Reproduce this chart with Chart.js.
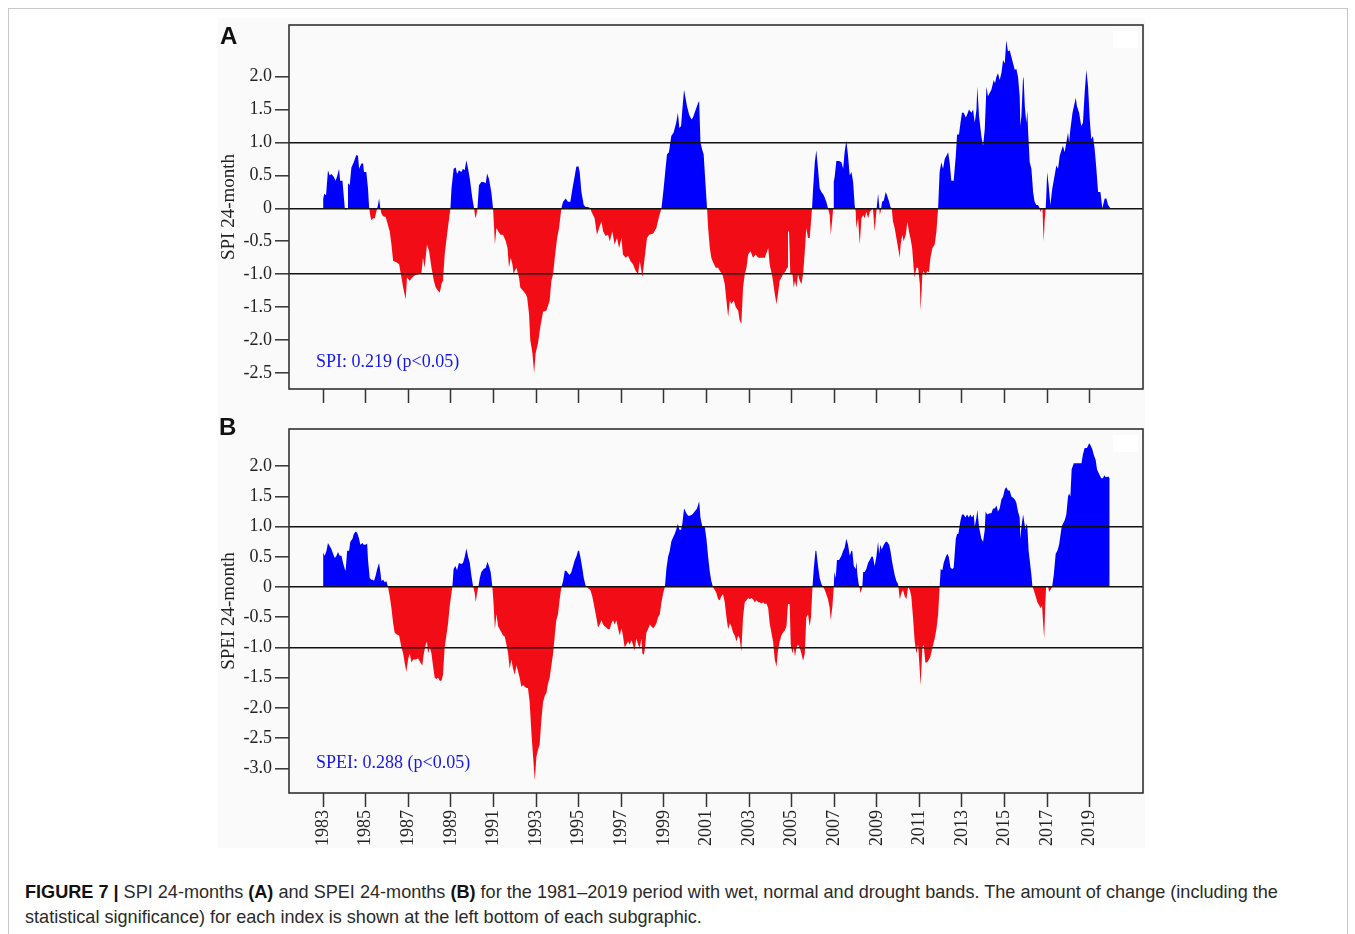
<!DOCTYPE html>
<html><head><meta charset="utf-8">
<script src="https://cdn.jsdelivr.net/npm/chart.js@4.4.1/dist/chart.umd.min.js"></script>
<style>
body{margin:0;background:#fff;width:1355px;height:934px;overflow:hidden;position:relative;}
#frame{position:absolute;left:8px;top:8px;width:1338px;height:940px;border:1px solid #c9c9c9;}
#fig{position:absolute;left:218px;top:18px;width:927px;height:830px;background:#fafafa;}
canvas{position:absolute;}
.lab{position:absolute;font-family:"Liberation Sans",Arial,sans-serif;font-weight:bold;font-size:24px;line-height:24px;color:#111;}
.note{position:absolute;font-family:"Liberation Serif",serif;font-size:18px;line-height:18px;color:#1616ee;white-space:nowrap;}
#cap{position:absolute;left:25px;top:880px;font-family:"Liberation Sans",Arial,sans-serif;font-size:18.1px;line-height:25px;color:#2a2a2a;white-space:nowrap;}
#cap b{font-weight:bold;color:#111;}
</style></head>
<body>
<div id="frame"></div>
<div id="fig"></div>
<canvas id="cA" width="927" height="392" style="left:218px;top:18px;"></canvas>
<canvas id="cB" width="927" height="438" style="left:218px;top:410px;"></canvas>
<div class="lab" style="left:220px;top:24px;">A</div>
<div class="lab" style="left:219px;top:415px;">B</div>
<div class="note" style="left:316px;top:352px;">SPI: 0.219 (p&lt;0.05)</div>
<div class="note" style="left:316px;top:753px;">SPEI: 0.288 (p&lt;0.05)</div>
<div id="cap"><b>FIGURE 7 |</b> SPI 24-months <b>(A)</b> and SPEI 24-months <b>(B)</b> for the 1981–2019 period with wet, normal and drought bands. The amount of change (including the<br>statistical significance) for each index is shown at the left bottom of each subgraphic.</div>
<script>
// ---- SPI 24-month (panel A) ----
const spiYears = [
1983.00,1983.06,1983.14,1983.23,1983.31,1983.39,1983.50,1983.59,1983.67,1983.75,1983.80,1983.91,
1984.02,1984.06,1984.13,1984.17,1984.25,1984.33,1984.44,1984.56,1984.64,1984.69,1984.80,1984.88,1984.92,
1985.03,1985.11,1985.16,1985.22,1985.27,1985.35,1985.43,1985.50,1985.58,1985.63,1985.69,1985.74,1985.82,1985.94,
1986.00,1986.13,1986.21,1986.29,1986.44,1986.57,1986.68,1986.76,1986.88,1986.94,
1987.07,1987.19,1987.30,1987.46,1987.62,1987.69,1987.77,1987.88,1987.98,
1988.09,1988.20,1988.29,1988.40,1988.48,1988.56,1988.63,1988.71,1988.82,1988.92,1988.98,
1989.03,1989.13,1989.23,1989.29,1989.38,1989.49,1989.57,1989.65,1989.73,1989.81,1989.89,
1990.01,1990.09,1990.15,1990.20,1990.25,1990.32,1990.43,1990.54,1990.64,1990.70,1990.79,1990.90,1990.98,
1991.03,1991.07,1991.14,1991.23,1991.33,1991.45,1991.58,1991.66,1991.73,1991.81,1991.89,1991.95,
1992.00,1992.08,1992.20,1992.26,1992.39,1992.51,1992.58,1992.67,1992.73,1992.83,1992.91,1992.98,
1993.09,1993.20,1993.33,1993.49,1993.64,1993.72,1993.80,1993.88,1993.99,
1994.08,1994.19,1994.27,1994.39,1994.50,1994.61,1994.71,1994.82,1994.89,1994.99,
1995.05,1995.13,1995.24,1995.33,1995.44,1995.55,1995.60,1995.75,1995.86,1995.96,
1996.07,1996.15,1996.27,1996.38,1996.46,1996.58,1996.69,1996.80,1996.90,
1997.01,1997.08,1997.21,1997.32,1997.43,1997.55,1997.68,1997.79,1997.87,1997.95,1997.99,
1998.10,1998.21,1998.31,1998.50,1998.65,1998.78,1998.89,1998.99,
1999.08,1999.15,1999.24,1999.35,1999.46,1999.58,1999.66,1999.73,1999.81,1999.87,1999.95,
2000.09,2000.19,2000.30,2000.37,2000.50,2000.61,2000.66,2000.72,2000.81,2000.87,2000.97,
2001.03,2001.08,2001.16,2001.23,2001.31,2001.44,2001.55,2001.63,2001.75,2001.86,2001.94,
2002.02,2002.10,2002.17,2002.28,2002.38,2002.49,2002.56,2002.64,2002.72,2002.80,2002.88,2002.96,
2003.07,2003.19,2003.32,2003.43,2003.58,2003.74,2003.85,2003.90,2003.97,
2004.10,2004.21,2004.29,2004.36,2004.44,2004.60,2004.72,2004.79,2004.83,2004.88,2004.94,
2005.04,2005.10,2005.16,2005.23,2005.30,2005.38,2005.46,2005.54,2005.62,2005.69,2005.77,2005.85,2005.90,2005.96,
2006.01,2006.09,2006.16,2006.24,2006.32,2006.40,2006.51,2006.63,2006.71,2006.79,2006.84,2006.90,2006.95,2006.98,
2007.03,2007.10,2007.23,2007.34,2007.42,2007.49,2007.57,2007.65,2007.73,2007.81,2007.89,2007.96,
2008.01,2008.04,2008.12,2008.20,2008.28,2008.36,2008.43,2008.51,2008.59,2008.67,2008.82,2008.90,2008.98,
2009.06,2009.11,2009.14,2009.18,2009.25,2009.33,2009.42,2009.48,2009.58,2009.64,2009.70,2009.76,2009.84,2009.92,
2010.00,2010.08,2010.12,2010.20,2010.26,2010.36,2010.44,2010.51,2010.58,2010.66,2010.73,2010.78,2010.86,2010.94,
2011.02,2011.06,2011.14,2011.20,2011.30,2011.36,2011.45,2011.52,2011.61,2011.72,2011.80,2011.88,2011.95,
2012.03,2012.11,2012.19,2012.27,2012.35,2012.42,2012.50,2012.61,2012.71,2012.77,2012.86,2012.93,
2013.00,2013.08,2013.18,2013.24,2013.33,2013.44,2013.52,2013.60,2013.68,2013.72,2013.80,2013.91,2013.99,
2014.07,2014.15,2014.22,2014.30,2014.38,2014.49,2014.55,2014.62,2014.69,2014.77,2014.85,2014.93,
2015.01,2015.08,2015.16,2015.24,2015.32,2015.40,2015.48,2015.55,2015.63,2015.71,2015.74,2015.79,2015.87,2015.90,2015.95,
2016.02,2016.07,2016.10,2016.18,2016.26,2016.34,2016.41,2016.49,2016.57,2016.65,2016.68,2016.78,2016.81,2016.84,2016.88,2016.93,2016.96,
2017.00,2017.07,2017.15,2017.24,2017.35,2017.43,2017.51,2017.59,2017.67,2017.74,2017.82,2017.90,2017.98,
2018.03,2018.09,2018.19,2018.29,2018.34,2018.40,2018.50,2018.60,2018.68,2018.76,2018.84,2018.92,
2019.00,2019.07,2019.15,2019.23,2019.31,2019.39,2019.50,2019.59,2019.70,2019.78,2019.86,2019.97
];
const spiValues = [
0.15,0.22,0.2,0.58,0.5,0.52,0.48,0.42,0.5,0.6,0.42,0.42,
0.0,-0.03,0.0,0.38,0.35,0.62,0.7,0.81,0.8,0.6,0.68,0.68,0.55,
0.55,0.3,0.02,-0.12,-0.18,-0.15,-0.15,-0.05,0.05,0.15,0.0,-0.08,-0.12,-0.13,
-0.2,-0.35,-0.55,-0.8,-0.82,-0.85,-1.05,-1.2,-1.38,-1.05,
-1.1,-1.05,-1.02,-1.0,-0.98,-0.75,-0.9,-0.55,-0.65,
-0.9,-1.1,-1.2,-1.25,-1.28,-1.15,-1.1,-0.7,-0.4,-0.15,0.0,
0.3,0.6,0.62,0.52,0.58,0.55,0.6,0.58,0.73,0.6,0.45,
0.15,0.0,-0.15,-0.1,0.0,0.35,0.4,0.4,0.38,0.53,0.45,0.25,0.0,
-0.3,-0.55,-0.3,-0.35,-0.4,-0.4,-0.5,-0.6,-0.9,-0.75,-0.85,-1.0,
-0.95,-0.9,-1.05,-1.2,-1.25,-1.3,-1.35,-1.6,-2.0,-2.2,-2.5,-2.2,
-2.05,-1.8,-1.57,-1.55,-1.4,-1.1,-1.0,-0.75,-0.45,
-0.3,0.0,0.1,0.15,0.1,0.1,0.3,0.5,0.63,0.64,
0.55,0.25,0.05,0.02,0.02,0.0,-0.05,-0.15,-0.4,-0.3,
-0.2,-0.35,-0.42,-0.4,-0.5,-0.35,-0.55,-0.45,-0.6,
-0.45,-0.7,-0.75,-0.72,-0.8,-0.85,-0.95,-1.0,-0.8,-0.95,-1.05,
-0.75,-0.45,-0.4,-0.38,-0.3,-0.12,0.0,0.3,
0.6,0.82,0.85,1.1,1.15,1.3,1.45,1.22,1.25,1.5,1.8,
1.55,1.42,1.35,1.38,1.5,1.6,1.63,1.0,0.88,0.82,0.3,
0.0,-0.3,-0.6,-0.75,-0.82,-0.9,-0.9,-0.95,-1.0,-1.15,-1.4,
-1.65,-1.4,-1.45,-1.4,-1.5,-1.55,-1.7,-1.75,-1.2,-1.0,-0.9,-0.7,
-0.65,-0.75,-0.7,-0.75,-0.75,-0.75,-0.65,-0.6,-0.85,
-1.05,-1.3,-1.45,-1.3,-1.1,-1.0,-0.95,-0.9,-0.35,-0.35,-1.0,
-1.0,-1.2,-1.1,-1.2,-1.0,-1.1,-1.15,-1.0,-0.65,-0.3,-0.45,-0.45,-0.25,0.0,
0.3,0.7,0.88,0.6,0.3,0.25,0.2,0.1,0.0,-0.1,-0.4,-0.2,0.0,0.4,
0.5,0.72,0.72,0.7,0.6,0.85,1.03,0.8,0.5,0.55,0.4,0.05,
-0.05,-0.3,-0.15,-0.55,-0.15,-0.1,-0.15,-0.05,-0.15,-0.05,0.0,-0.35,-0.05,
0.22,0.05,-0.1,-0.05,0.1,0.12,0.25,0.2,0.1,0.02,0.0,-0.2,-0.3,-0.45,
-0.6,-0.75,-0.55,-0.4,-0.5,-0.4,-0.2,-0.35,-0.45,-0.6,-0.9,-1.05,-0.9,-0.9,
-1.15,-1.55,-1.0,-0.95,-1.02,-0.95,-0.97,-0.75,-0.6,-0.55,-0.35,0.0,0.55,
0.7,0.6,0.75,0.8,0.85,0.7,0.42,0.42,0.8,1.12,1.12,1.3,
1.45,1.45,1.38,1.42,1.5,1.45,1.5,1.3,1.5,1.85,1.4,1.1,0.95,
1.2,1.85,1.7,1.75,1.8,1.95,1.9,2.0,2.05,1.95,2.05,2.25,
2.2,2.55,2.38,2.4,2.3,2.2,2.1,2.12,2.0,1.7,1.25,1.4,2.0,1.95,1.55,
1.3,1.48,1.2,0.7,0.6,0.25,0.1,0.05,0.05,0.0,-0.05,0.0,-0.3,-0.5,-0.2,0.0,0.2,
0.55,0.35,0.05,0.3,0.5,0.65,0.6,0.8,0.88,0.95,0.85,1.0,1.15,
1.0,1.2,1.45,1.6,1.68,1.55,1.45,1.25,1.3,1.75,2.1,1.85,
1.35,1.05,1.1,0.9,0.6,0.25,0.25,0.0,0.15,0.15,0.05,0.0
];
// ---- SPEI 24-month (panel B) ----
const speiYears = [
1983.00,1983.08,1983.16,1983.23,1983.31,1983.39,1983.47,1983.55,1983.63,1983.70,1983.78,1983.86,1983.94,
1984.02,1984.06,1984.13,1984.22,1984.28,1984.38,1984.44,1984.53,1984.60,1984.69,1984.75,1984.85,1984.91,1984.99,
1985.07,1985.11,1985.19,1985.27,1985.35,1985.39,1985.46,1985.54,1985.63,1985.69,1985.74,1985.82,1985.90,1985.97,
1986.05,1986.13,1986.21,1986.29,1986.36,1986.44,1986.57,1986.68,1986.76,1986.83,1986.91,1986.99,
1987.07,1987.15,1987.23,1987.35,1987.46,1987.57,1987.66,1987.73,1987.82,1987.88,1987.93,
1988.01,1988.09,1988.16,1988.24,1988.32,1988.40,1988.48,1988.56,1988.63,1988.71,1988.79,1988.87,1988.95,
1989.07,1989.13,1989.21,1989.29,1989.38,1989.49,1989.57,1989.65,1989.73,1989.81,1989.89,1989.96,
1990.04,1990.12,1990.17,1990.23,1990.29,1990.36,1990.43,1990.54,1990.64,1990.72,1990.79,1990.87,1990.95,
1991.01,1991.07,1991.14,1991.22,1991.33,1991.45,1991.53,1991.61,1991.69,1991.76,1991.84,1991.92,
1992.00,1992.08,1992.16,1992.23,1992.31,1992.39,1992.47,1992.55,1992.62,1992.70,1992.78,1992.86,1992.94,
1993.02,1993.09,1993.17,1993.25,1993.33,1993.41,1993.49,1993.56,1993.64,1993.72,1993.80,1993.88,1993.95,
1994.03,1994.11,1994.19,1994.27,1994.35,1994.42,1994.50,1994.58,1994.66,1994.74,1994.82,1994.89,1994.97,
1995.02,1995.08,1995.18,1995.24,1995.33,1995.39,1995.44,1995.55,1995.64,1995.75,1995.83,1995.91,1995.99,
1996.07,1996.15,1996.22,1996.30,1996.38,1996.46,1996.54,1996.62,1996.69,1996.77,1996.85,1996.93,
1997.01,1997.08,1997.16,1997.24,1997.32,1997.40,1997.48,1997.55,1997.63,1997.71,1997.79,1997.87,1997.95,1997.99,
1998.06,1998.12,1998.18,1998.26,1998.34,1998.41,1998.50,1998.58,1998.65,1998.73,1998.81,1998.89,1998.97,
1999.05,1999.12,1999.20,1999.28,1999.35,1999.43,1999.51,1999.58,1999.66,1999.73,1999.81,1999.87,1999.95,
2000.06,2000.14,2000.22,2000.34,2000.45,2000.56,2000.66,2000.72,2000.81,2000.92,
2001.00,2001.08,2001.16,2001.23,2001.31,2001.39,2001.47,2001.55,2001.63,2001.70,2001.78,2001.86,2001.94,
2002.02,2002.10,2002.17,2002.25,2002.33,2002.41,2002.49,2002.56,2002.64,2002.72,2002.80,2002.88,2002.96,
2003.03,2003.11,2003.19,2003.27,2003.35,2003.43,2003.50,2003.58,2003.66,2003.74,2003.82,2003.90,2003.97,
2004.05,2004.13,2004.21,2004.29,2004.36,2004.44,2004.52,2004.60,2004.68,2004.76,2004.83,2004.91,2004.96,
2005.04,2005.10,2005.16,2005.23,2005.30,2005.38,2005.46,2005.54,2005.62,2005.69,2005.77,2005.85,2005.91,2005.98,
2006.04,2006.12,2006.16,2006.24,2006.32,2006.40,2006.48,2006.56,2006.63,2006.71,2006.79,2006.84,2006.92,2006.98,
2007.01,2007.07,2007.13,2007.23,2007.34,2007.42,2007.49,2007.57,2007.65,2007.73,2007.81,2007.85,2007.92,
2008.01,2008.04,2008.09,2008.15,2008.20,2008.23,2008.28,2008.32,2008.36,2008.43,2008.51,2008.59,2008.67,2008.75,2008.82,2008.90,2008.98,
2009.06,2009.11,2009.17,2009.23,2009.33,2009.42,2009.48,2009.58,2009.64,2009.73,2009.84,2009.92,
2010.00,2010.08,2010.16,2010.23,2010.31,2010.39,2010.47,2010.55,2010.62,2010.70,2010.78,2010.86,2010.94,
2011.02,2011.06,2011.14,2011.20,2011.28,2011.36,2011.45,2011.52,2011.61,2011.72,2011.80,2011.88,2011.95,
2012.00,2012.08,2012.14,2012.24,2012.31,2012.38,2012.46,2012.55,2012.61,2012.71,2012.77,2012.83,2012.93,
2013.00,2013.08,2013.16,2013.24,2013.32,2013.39,2013.47,2013.55,2013.60,2013.68,2013.72,2013.80,2013.91,2013.99,
2014.07,2014.11,2014.18,2014.22,2014.30,2014.38,2014.46,2014.54,2014.62,2014.69,2014.77,2014.85,2014.93,
2015.01,2015.08,2015.16,2015.24,2015.32,2015.40,2015.48,2015.55,2015.63,2015.71,2015.74,2015.79,2015.87,2015.91,2015.98,
2016.02,2016.07,2016.13,2016.18,2016.26,2016.31,2016.37,2016.46,2016.54,2016.62,2016.70,2016.76,2016.81,2016.86,2016.91,2016.95,
2017.00,2017.05,2017.09,2017.15,2017.23,2017.31,2017.40,2017.48,2017.56,2017.62,2017.68,2017.74,2017.82,2017.90,2017.98,
2018.03,2018.09,2018.15,2018.25,2018.34,2018.45,2018.53,2018.61,2018.68,2018.76,2018.87,2018.97,
2019.03,2019.12,2019.18,2019.28,2019.34,2019.40,2019.47,2019.54,2019.62,2019.68,2019.74,2019.81,2019.87,2019.94
];
const speiValues = [
0.57,0.52,0.6,0.73,0.68,0.63,0.55,0.48,0.52,0.58,0.52,0.52,0.4,
0.3,0.27,0.6,0.6,0.75,0.8,0.88,0.92,0.9,0.8,0.7,0.73,0.7,0.7,
0.72,0.45,0.15,0.12,0.12,0.1,0.18,0.3,0.4,0.25,0.1,0.12,0.08,0.1,
0.0,-0.15,-0.35,-0.6,-0.75,-0.78,-0.8,-1.0,-1.1,-1.25,-1.4,-1.2,
-1.1,-1.25,-1.2,-1.2,-1.18,-1.25,-1.3,-1.1,-0.95,-0.9,-1.1,
-1.0,-1.1,-1.3,-1.5,-1.52,-1.5,-1.55,-1.55,-1.45,-1.0,-0.8,-0.6,-0.3,
0.0,0.3,0.35,0.28,0.4,0.38,0.4,0.5,0.64,0.5,0.4,0.2,
0.02,-0.1,-0.25,-0.1,0.0,0.15,0.25,0.3,0.32,0.42,0.35,0.25,0.0,
-0.3,-0.7,-0.45,-0.65,-0.72,-0.8,-0.82,-0.95,-1.1,-1.35,-1.2,-1.35,
-1.45,-1.3,-1.4,-1.5,-1.65,-1.62,-1.65,-1.67,-1.67,-1.9,-2.4,-2.8,-3.2,
-2.8,-2.7,-2.6,-2.2,-1.9,-1.8,-1.75,-1.6,-1.5,-1.3,-1.1,-0.8,-0.55,
-0.45,-0.2,0.0,0.1,0.27,0.27,0.23,0.2,0.25,0.35,0.45,0.5,0.6,
0.6,0.5,0.3,0.15,0.02,0.0,-0.02,-0.05,-0.15,-0.35,-0.5,-0.67,-0.62,
-0.55,-0.62,-0.65,-0.67,-0.7,-0.7,-0.6,-0.55,-0.62,-0.55,-0.68,-0.8,
-0.68,-0.8,-1.0,-0.95,-0.9,-0.95,-0.88,-0.95,-1.05,-0.85,-0.95,-1.0,-0.85,-1.1,
-1.12,-1.0,-0.75,-0.7,-0.62,-0.65,-0.68,-0.65,-0.6,-0.5,-0.45,-0.25,-0.1,
0.0,0.3,0.5,0.6,0.75,0.82,0.88,0.95,1.05,0.95,0.95,1.05,1.3,
1.22,1.18,1.18,1.2,1.25,1.3,1.42,1.15,1.0,1.0,
0.8,0.5,0.25,0.1,0.0,-0.05,-0.1,-0.2,-0.22,-0.15,-0.12,-0.25,-0.5,
-0.7,-0.6,-0.65,-0.75,-0.8,-0.9,-0.8,-0.85,-1.07,-0.5,-0.25,-0.22,-0.18,
-0.2,-0.18,-0.2,-0.25,-0.22,-0.25,-0.25,-0.27,-0.25,-0.28,-0.27,-0.35,-0.6,
-0.75,-0.9,-1.2,-1.32,-1.05,-0.9,-0.8,-0.75,-0.72,-0.65,-0.28,-0.28,-0.95,
-1.1,-1.0,-1.15,-1.0,-0.95,-1.0,-1.1,-1.22,-1.1,-0.5,-0.45,-0.65,-0.5,0.0,
0.3,0.6,0.6,0.35,0.15,0.05,0.0,-0.05,-0.12,-0.2,-0.35,-0.55,-0.3,0.0,
0.25,0.15,0.45,0.45,0.52,0.6,0.65,0.8,0.7,0.52,0.6,0.6,0.35,
0.3,0.42,0.2,0.05,-0.02,-0.1,-0.05,0.0,0.25,0.25,0.3,0.4,0.45,0.5,0.5,0.35,0.5,
0.75,0.55,0.7,0.62,0.7,0.75,0.75,0.7,0.6,0.4,0.2,0.1,
0.05,-0.2,-0.1,-0.05,-0.15,-0.2,0.0,-0.05,-0.15,-0.5,-0.9,-1.1,-0.95,
-1.4,-1.63,-1.0,-0.95,-1.25,-1.25,-1.2,-1.15,-1.0,-0.85,-0.7,-0.45,0.0,
0.3,0.28,0.4,0.5,0.55,0.5,0.32,0.3,0.32,0.8,0.88,0.88,1.1,
1.2,1.2,1.15,1.2,1.15,1.2,1.15,1.2,1.0,1.15,1.28,1.0,0.8,0.75,
0.95,1.25,1.2,1.2,1.22,1.22,1.3,1.3,1.35,1.25,1.3,1.45,1.5,
1.62,1.65,1.6,1.6,1.5,1.48,1.45,1.4,1.25,1.15,0.8,1.0,1.2,1.2,0.95,
1.05,1.0,0.6,0.45,0.2,0.0,-0.05,-0.15,-0.25,-0.3,-0.35,-0.3,-0.6,-0.85,-0.3,0.0,
0.02,0.0,-0.08,-0.05,0.0,0.2,0.55,0.6,0.7,0.85,1.0,1.05,1.1,1.2,1.5,
1.55,1.5,1.95,2.05,2.05,2.05,2.05,2.05,2.2,2.3,2.3,2.38,
2.35,2.28,2.2,2.1,1.95,1.9,1.85,1.8,1.8,1.85,1.82,1.82,1.83,1.8
];
// ---- axes ----
const yearTicks = [1983,1985,1987,1989,1991,1993,1995,1997,1999,2001,2003,2005,2007,2009,2011,2013,2015,2017,2019];
const spiTicks = [-2.5,-2,-1.5,-1,-0.5,0,0.5,1,1.5,2];
const speiTicks = [-3,-2.5,-2,-1.5,-1,-0.5,0,0.5,1,1.5,2];
const bands = [-1,0,1];
const BLUE = '#0000ff', RED = '#f20c16';

const framePlugin = {
  id:'frame',
  beforeDatasetsDraw(chart){
    const {ctx, chartArea:a} = chart;
    ctx.save(); ctx.fillStyle = '#ffffff';
    ctx.fillRect(a.right-30, a.top+6, 25, 17);
    ctx.restore();
  },
  afterDraw(chart){
    const {ctx, chartArea:a} = chart;
    ctx.save(); ctx.strokeStyle = '#333'; ctx.lineWidth = 1.6;
    ctx.strokeRect(a.left, a.top, a.right-a.left, a.bottom-a.top);
    ctx.restore();
  }
};

function makeChart(id, years, values, yTicks, yMin, yMax, title, showX, padTop, xH){
  const pts = years.map((t,i)=>({x:t, y:values[i]}));
  if (years.length !== values.length) console.error('length mismatch', id, years.length, values.length);
  return new Chart(document.getElementById(id), {
    type:'line',
    data:{datasets:[{data:pts, borderWidth:0, pointRadius:0, tension:0,
      fill:{target:{value:0}, above:BLUE, below:RED}}]},
    options:{
      responsive:false, animation:false, events:[],
      layout:{padding:{top:padTop, right:2, left:0, bottom:0}},
      plugins:{legend:{display:false}, tooltip:{enabled:false}},
      scales:{
        x:{type:'linear', min:1981.40, max:2021.50,
          afterBuildTicks:s=>{ s.ticks = yearTicks.map(v=>({value:v})); },
          afterFit:s=>{ s.height = xH; s.paddingLeft = 0; s.paddingRight = 0; },
          border:{display:false},
          grid:{drawOnChartArea:false, drawTicks:true, tickLength:14, tickColor:'#333', tickWidth:1.5},
          ticks:{display:showX, autoSkip:false, minRotation:90, maxRotation:90, padding:3,
            color:'#222', font:{family:'Liberation Serif', size:18}, callback:v=>String(v)}
        },
        y:{min:yMin, max:yMax,
          afterBuildTicks:s=>{ s.ticks = yTicks.map(v=>({value:v})); },
          afterFit:s=>{ s.width = 71; s.paddingTop = 0; s.paddingBottom = 0; },
          border:{display:false},
          grid:{z:1, color:c=>bands.includes(c.tick && c.tick.value) ? '#111' : 'rgba(0,0,0,0)',
            lineWidth:1.6, drawTicks:true, tickLength:14, tickColor:'#333', tickWidth:1.5},
          ticks:{padding:3, color:'#222', font:{family:'Liberation Serif', size:18},
            callback:v=> v===0 ? '0' : v.toFixed(1)},
          title:{display:true, text:title, color:'#222', font:{family:'Liberation Serif', size:19}, padding:{top:0,bottom:0}}
        }
      }
    },
    plugins:[framePlugin]
  });
}
makeChart('cA', spiYears, spiValues, spiTicks, -2.742, 2.783, 'SPI 24-month', false, 7, 21);
makeChart('cB', speiYears, speiValues, speiTicks, -3.408, 2.616, 'SPEI 24-month', true, 19, 55);
</script>
</body></html>
